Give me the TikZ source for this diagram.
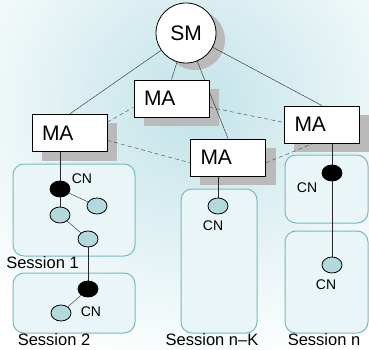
\documentclass[tikz,border=0pt]{standalone}
\usepackage{fontspec}
\setmainfont{Liberation Sans}
\usetikzlibrary{shapes.geometric}
\definecolor{bgblue}{RGB}{194,227,232}
\definecolor{sessfill}{RGB}{234,245,247}
\definecolor{sessline}{RGB}{118,186,191}
\definecolor{cnfill}{RGB}{178,218,222}
\definecolor{shadowc}{RGB}{186,186,186}
\pgfdeclarelayer{background}
\pgfdeclarelayer{shadow}
\pgfdeclarelayer{edges}
\pgfsetlayers{background,shadow,edges,main}

\begin{document}
\begin{tikzpicture}[x=1pt,y=-1pt,line width=0.8pt,
  every node/.style={font=\fontsize{14}{14}\selectfont},
  agent/.style={draw,fill=white,minimum width=75pt,minimum height=37pt,inner xsep=10pt,inner ysep=0pt,
    text width=55pt,align=left,font=\fontsize{21}{21}\selectfont},
  cn/.style={draw,ellipse,minimum width=20pt,minimum height=16pt,inner sep=0pt},
  cnblack/.style={cn,fill=black},
  cnlight/.style={cn,fill=cnfill},
  sessbox/.style={draw=sessline,fill=sessfill,line width=1pt,rounded corners=11pt},
  sesslabel/.style={font=\fontsize{16.5}{16.5}\selectfont},
  link/.style={black!85},
  dlink/.style={black!75,dash pattern=on 4pt off 3pt}]
    \useasboundingbox (0,0) rectangle (369,350);
    %manager and agents
    \node[circle,draw,fill=white,minimum size=60pt,inner sep=0pt,font=\fontsize{21}{21}\selectfont] (sm) at (186,33) {SM};
    \node[agent] (maA) at (69.5,133) {MA};
    \node[agent] (maB) at (171.5,98.5) {MA};
    \node[agent] (maC) at (228,157.5) {MA};
    \node[agent] (maD) at (322,124.5) {MA};
    %correspondent nodes
    \node[cnblack] (cn1) at (60,189) {};
    \node[cnlight] (cnA) at (97,206) {};
    \node[cnlight] (cnB) at (60,215) {};
    \node[cnlight] (cnC) at (88,239) {};
    \node[cnblack] (cn2) at (88,289) {};
    \node[cnlight] (cnD) at (61,313) {};
    \node[cnlight] (cnK) at (218,206) {};
    \node[cnblack] (cn3) at (332,173) {};
    \node[cnlight] (cn4) at (332,265) {};
    \node (l1) at (82,179) {CN};
    \node (l2) at (91,312) {CN};
    \node (lK) at (213,226) {CN};
    \node (l3) at (307,188) {CN};
    \node (l4) at (326,285) {CN};
    %sessions
    \node[sesslabel] (s1) at (42.5,263) {Session 1};
    \node[sesslabel] (s2) at (54,340) {Session 2};
    \node[sesslabel] (sK) at (212,340) {Session n--K};
    \node[sesslabel] (sn) at (324,340) {Session n};
    \begin{pgfonlayer}{background}
    \fill[white] (0,0) rectangle (369,350);
    \begin{scope}
    \clip (0,0) rectangle (369,350);
    \shade[inner color=bgblue,outer color=white] (192,105) circle (270);
    \end{scope}
    \draw[sessbox] (13,164) rectangle (135,256);
    \draw[sessbox] (13,273) rectangle (135,333);
    \draw[sessbox] (181,189) rectangle (257,333);
    \draw[sessbox] (285,155) rectangle (368,223);
    \draw[sessbox] (285,231) rectangle (368,333);
    \end{pgfonlayer}
    \begin{pgfonlayer}{shadow}
    \fill[shadowc] ([shift={(9pt,-7pt)}]sm.center) circle (30pt);
    \foreach \n in {maA,maB,maC,maD}
      \fill[shadowc] ([shift={(10pt,-9pt)}]\n.south west) rectangle ([shift={(10pt,-9pt)}]\n.north east);
    \end{pgfonlayer}
    \begin{pgfonlayer}{edges}
    \draw[link] (sm) -- (maA.north);
    \draw[link] (sm) -- (maB.north);
    \draw[link] (sm) -- (maC.north);
    \draw[link] (sm) -- (maD.north);
    \draw[dlink] (maA.16) -- (maB.193);
    \draw[dlink] (maA.-11) -- (maC.188);
    \draw[dlink] (maB.-13) -- (maD.177);
    \draw[dlink] (maC.-8) -- (maD.245);
    \draw[link] (cn1 |- maA.south) -- (cn1);
    \draw[link] (cn1) -- (cnA);
    \draw[link] (cn1) -- (cnB);
    \draw[link] (cnB) -- (cnC);
    \draw[link] (cnC) -- (cn2);
    \draw[link] (cn2) -- (cnD);
    \draw[link] (cnK |- maC.south) -- (cnK);
    \draw[link] (cn3 |- maD.south) -- (cn3);
    \draw[link] (cn3) -- (cn4);
    \end{pgfonlayer}
\end{tikzpicture}
\end{document}
